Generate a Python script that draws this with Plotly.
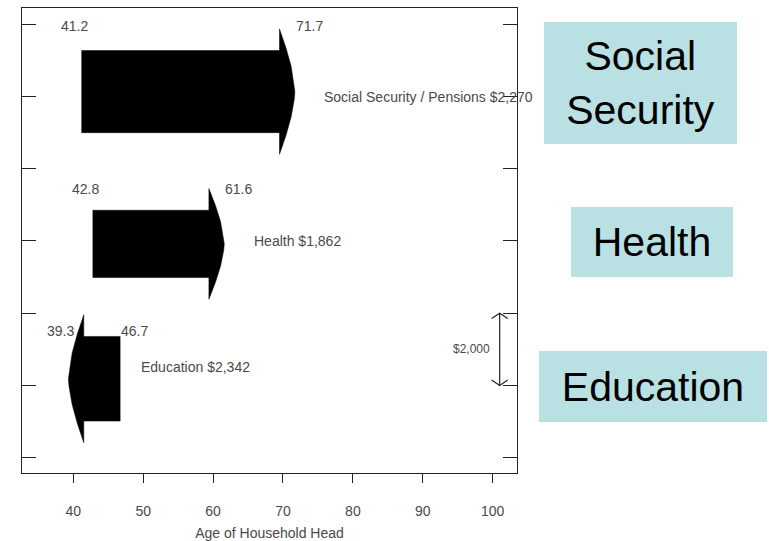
import plotly.graph_objects as go

# Household spending flows by age of household head
names = ["Social Security / Pensions", "Health", "Education"]
start_age = [41.2, 42.8, 46.7]
end_age = [71.7, 61.6, 39.3]
amount = [2270, 1862, 2342]
row = [3, 2, 1]
side_titles = ["Social<br>Security", "Health", "Education"]

scale_amount = 2000
dollars_per_unit = 4000          # arrow thickness: $4,000 spans one row unit
head_extra = 0.15                # head flares beyond the shaft (row units)
head_len = 2.2                   # head length (years)
# convex head outline: (fraction of head length, fraction of head half-height)
head_profile = [(0.0, 1.0), (0.42, 0.70), (0.76, 0.40), (0.96, 0.12), (1.0, 0.0)]

# small vertical placement of each arrow relative to its row tick (row units)
row_offset = [0.0325, -0.021, 0.046]
# per-row label nudges in pixels
name_dx = [27, 28, 19]
name_dy = [-5, 3, 12]
num_dy = [3, 0, -16]

FONT = "Liberation Sans, Arial, sans-serif"
GREY = "#4a4a4a"
FRAME = "#222222"

fig = go.Figure()


def arrow_path(x0, x1, yc, half, head_half):
    d = 1 if x1 > x0 else -1
    base = x1 - d * head_len
    xs = [x0, base, base]
    ys = [yc + half, yc + half, yc + head_half]
    for f, g in head_profile[1:]:
        xs.append(base + d * f * head_len)
        ys.append(yc + g * head_half)
    for f, g in reversed(head_profile[:-1]):
        xs.append(base + d * f * head_len)
        ys.append(yc - g * head_half)
    xs += [base, x0, x0]
    ys += [yc - half, yc - half, yc + half]
    return xs, ys


annotations = []
for i in range(len(names)):
    yc = row[i] + row_offset[i]
    half = amount[i] / dollars_per_unit / 2
    head_half = half + head_extra
    xs, ys = arrow_path(start_age[i], end_age[i], yc, half, head_half)
    fig.add_trace(go.Scatter(
        x=xs, y=ys, mode="lines", fill="toself",
        fillcolor="black", line=dict(color="black", width=0.5),
        hoverinfo="skip", showlegend=False,
    ))
    lo, hi = min(start_age[i], end_age[i]), max(start_age[i], end_age[i])
    top = yc + head_half
    annotations.append(dict(
        x=lo, y=top, xref="x", yref="y", text=f"{lo}", showarrow=False,
        xanchor="right", yanchor="middle", xshift=8, yshift=num_dy[i],
        font=dict(family=FONT, size=14, color=GREY),
    ))
    annotations.append(dict(
        x=hi, y=top, xref="x", yref="y", text=f"{hi}", showarrow=False,
        xanchor="left", yanchor="middle", xshift=-1, yshift=num_dy[i],
        font=dict(family=FONT, size=14, color=GREY),
    ))
    annotations.append(dict(
        x=hi, y=yc, xref="x", yref="y", text=f"{names[i]} ${amount[i]:,}",
        showarrow=False, xanchor="left", yanchor="middle",
        xshift=name_dx[i], yshift=name_dy[i],
        font=dict(family=FONT, size=14, color=GREY),
    ))

# $2,000 scale bar just right of age 100
bar_x = 101
bar_y0 = 1.0
bar_y1 = bar_y0 + scale_amount / dollars_per_unit
fig.add_trace(go.Scatter(
    x=[bar_x, bar_x], y=[bar_y0, bar_y1], mode="lines",
    line=dict(color=FRAME, width=1.2), hoverinfo="skip", showlegend=False,
))
vx, vy = 1.15, 0.037
fig.add_trace(go.Scatter(
    x=[bar_x - vx, bar_x, bar_x + vx, None, bar_x - vx, bar_x, bar_x + vx],
    y=[bar_y1 - vy, bar_y1, bar_y1 - vy, None, bar_y0 + vy, bar_y0, bar_y0 + vy],
    mode="lines", line=dict(color=FRAME, width=1.2),
    hoverinfo="skip", showlegend=False,
))
annotations.append(dict(
    x=bar_x, y=(bar_y0 + bar_y1) / 2, xref="x", yref="y",
    text=f"${scale_amount:,}", showarrow=False, xanchor="right",
    yanchor="middle", xshift=-8,
    font=dict(family=FONT, size=12, color=GREY),
))

# light-blue side titles
box_x = [1.249, 1.2724, 1.2744]
box_y = [0.838, 0.4964, 0.1864]
box_w = [193, 162, 228]
box_h = [122, 70, 71]
for i, t in enumerate(side_titles):
    annotations.append(dict(
        x=box_x[i], y=box_y[i], xref="paper", yref="paper", text=t,
        showarrow=False, xanchor="center", yanchor="middle",
        width=box_w[i], height=box_h[i], bgcolor="#B9E0E3",
        borderpad=0, borderwidth=0, align="center", valign="middle",
        font=dict(family=FONT, size=41, color="black"),
    ))

fig.update_layout(
    width=769, height=541,
    margin=dict(l=22, r=252, t=8, b=68, autoexpand=False),
    paper_bgcolor="white", plot_bgcolor="white",
    showlegend=False,
    annotations=annotations,
    xaxis=dict(
        range=[32.66, 103.48], tickvals=[40, 50, 60, 70, 80, 90, 100],
        ticks="outside", ticklen=9, tickwidth=1.2, tickcolor=FRAME,
        showline=True, linecolor=FRAME, linewidth=1.3, mirror=True,
        showgrid=False, zeroline=False, ticklabelstandoff=16,
        automargin=False,
        tickfont=dict(family=FONT, size=14, color=GREY),
        title=dict(text="Age of Household Head", standoff=16,
                   font=dict(family=FONT, size=14, color=GREY)),
    ),
    yaxis=dict(
        range=[0.394, 3.611], tickvals=[0.5, 1, 1.5, 2, 2.5, 3, 3.5],
        ticks="inside", ticklen=14, tickwidth=1.2, tickcolor=FRAME,
        showticklabels=False, showline=True, linecolor=FRAME,
        linewidth=1.3, mirror="ticks", showgrid=False, zeroline=False,
        automargin=False,
    ),
)

fig.write_html("out.html")
